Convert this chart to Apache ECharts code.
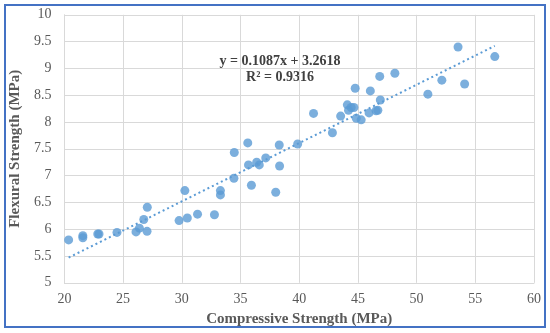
<!DOCTYPE html>
<html>
<head>
<meta charset="utf-8">
<script src="https://cdn.jsdelivr.net/npm/echarts@6/dist/echarts.min.js"></script>
<style>
html,body{margin:0;padding:0;background:#fff;}
#chart{width:550px;height:333px;}
</style>
</head>
<body>
<div id="chart"></div>
<script>
// Data
var compressive = [20.36, 21.57, 21.57, 22.84, 22.95, 24.48, 26.10, 26.39, 27.04, 26.76,
  27.06, 29.77, 30.47, 30.26, 31.34, 32.78, 33.29, 33.29, 34.44, 34.47,
  35.62, 35.68, 35.93, 36.38, 36.60, 37.15, 38.00, 38.30, 38.33, 39.87,
  41.22, 42.83, 43.53, 44.10, 44.20, 44.43, 44.66, 44.77, 44.86, 45.28,
  45.95, 46.06, 46.55, 46.70, 46.91, 46.86, 48.15, 50.96, 52.15, 53.53,
  54.09, 56.66];
var flexural = [5.80, 5.88, 5.84, 5.91, 5.91, 5.94, 5.95, 6.02, 5.96, 6.18,
  6.41, 6.16, 6.21, 6.72, 6.28, 6.27, 6.72, 6.64, 6.95, 7.43,
  7.61, 7.20, 6.82, 7.25, 7.20, 7.33, 6.69, 7.57, 7.18, 7.59,
  8.16, 7.80, 8.11, 8.32, 8.22, 8.27, 8.27, 8.63, 8.07, 8.04,
  8.17, 8.58, 8.21, 8.22, 8.41, 8.85, 8.91, 8.52, 8.78, 9.40,
  8.71, 9.22];
var trendX = [20.36, 56.66];
var trendY = [5.47, 9.42];
var equationText = 'y = 0.1087x + 3.2618';
var r2Text = 'R\u00B2 = 0.9316';
var xTitle = 'Compressive Strength (MPa)';
var yTitle = 'Flexural Strength (MPa)';

var points = compressive.map(function (x, i) { return [x, flexural[i]]; });
var trend = trendX.map(function (x, i) { return [x, trendY[i]]; });

var serif = '"Liberation Serif", "Times New Roman", serif';
var chart = echarts.init(document.getElementById('chart'), null, {renderer: 'canvas'});
chart.setOption({
  backgroundColor: '#ffffff',
  animation: false,
  grid: {left: 60.7, top: 14.8, width: 473.3, height: 268, containLabel: false},
  xAxis: {
    type: 'value', min: 20, max: 60, interval: 5,
    name: xTitle, nameLocation: 'middle', nameGap: 24,
    nameTextStyle: {fontFamily: serif, fontWeight: 'bold', fontSize: 15, color: '#595959'},
    axisLine: {show: true, lineStyle: {color: '#D9D9D9', width: 1}},
    axisTick: {show: false},
    axisLabel: {fontFamily: serif, fontSize: 14, color: '#595959', margin: 10},
    splitLine: {show: true, lineStyle: {color: '#D9D9D9', width: 1}}
  },
  yAxis: {
    type: 'value', min: 5, max: 10, interval: 0.5,
    name: yTitle, nameLocation: 'middle', nameGap: 34,
    nameTextStyle: {fontFamily: serif, fontWeight: 'bold', fontSize: 15, color: '#595959'},
    axisLine: {show: true, lineStyle: {color: '#D9D9D9', width: 1}},
    axisTick: {show: false},
    axisLabel: {fontFamily: serif, fontSize: 14, color: '#595959', margin: 13},
    splitLine: {show: true, lineStyle: {color: '#D9D9D9', width: 1}}
  },
  series: [
    {
      type: 'scatter', data: points, symbol: 'circle', symbolSize: 9,
      itemStyle: {color: '#5B9BD5'}, z: 3
    },
    {
      type: 'line', data: trend, symbol: 'none', z: 2,
      lineStyle: {color: '#5B9BD5', width: 2, type: [2, 3]}
    }
  ],
  graphic: [
    {type: 'rect', shape: {x: 5, y: 5, width: 540, height: 322}, silent: true,
     style: {fill: 'none', stroke: '#4472C4', lineWidth: 2}},
    {type: 'text', x: 280, y: 61, silent: true,
     style: {text: equationText, font: 'bold 14px ' + serif, fill: '#404040', align: 'center', verticalAlign: 'middle'}},
    {type: 'text', x: 280, y: 77, silent: true,
     style: {text: r2Text, font: 'bold 14px ' + serif, fill: '#404040', align: 'center', verticalAlign: 'middle'}}
  ]
});
</script>
</body>
</html>
